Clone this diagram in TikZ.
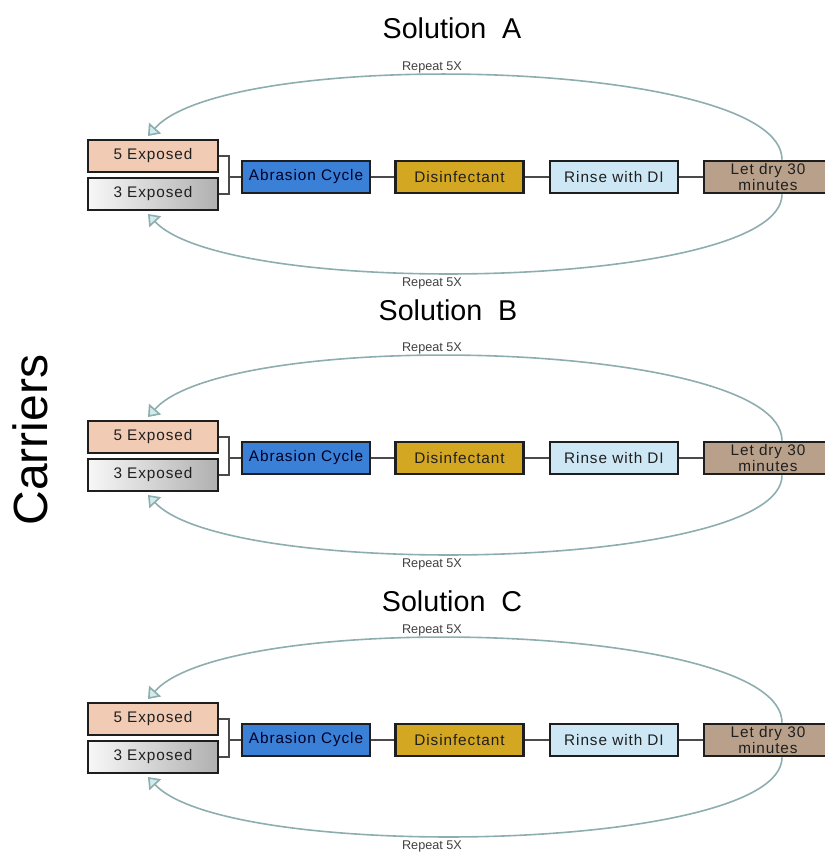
\documentclass[tikz,border=0pt]{standalone}
\usepackage{fontspec}
\setmainfont{Liberation Sans}
\newfontfamily\boxfont[LetterSpace=6]{Liberation Sans}
\usetikzlibrary{arrows.meta}
\definecolor{peach}{HTML}{F2CBB5}
\definecolor{abrblue}{HTML}{3A80D6}
\definecolor{gold}{HTML}{D4A722}
\definecolor{rinse}{HTML}{CDE7F5}
\definecolor{tan}{HTML}{B8A08A}
\definecolor{loopcol}{HTML}{8EADAE}
\definecolor{tipfill}{HTML}{D2ECEC}
\definecolor{linkcol}{HTML}{4A4A4A}
\definecolor{edgecol}{HTML}{1E1E1E}
\tikzset{
  stage/.style={draw=edgecol, line width=2pt, minimum height=24pt,
    inner sep=0pt, text=black!88, align=center,
    font=\boxfont\fontsize{11.5}{13}\selectfont},
  carrier/.style={stage, minimum width=97.5pt},
  procbox/.style={stage, minimum width=96pt},
  link/.style={draw=linkcol, line width=2pt},
  loop/.style={draw=loopcol, line width=1.2pt,
    -{Triangle[length=8pt,width=12pt,fill=tipfill]}},
  reptext/.style={font=\fontsize{9.5}{11}\selectfont, text=black!75},
  title/.style={font=\fontsize{21.5}{24}\selectfont},
}
\begin{document}
\begin{tikzpicture}[x=0.75pt, y=-0.75pt]
\useasboundingbox (0,0) rectangle (825,854);
\clip (0,0) rectangle (825,854);

\node[rotate=90, font=\fontsize{36}{40}\selectfont] (carriers) at (30,440) {Carriers};

\foreach \r/\dy/\tx/\ty in {A/0/452/28, B/281/448/310, C/563/452/601} {
  \begin{scope}[yshift={-0.75pt*\dy}]
    \node[title] (title\r) at (\tx,{\ty-\dy}) {Solution\ \ \r};

    \node[carrier, fill=peach] (five\r) at (153,156) {5 Exposed};
    \node[carrier, left color=gray!6, right color=gray!62] (three\r) at (153,194) {3 Exposed};
    \node[procbox, fill=abrblue, text=black!85!blue] (abr\r) at (306,177) {Abrasion Cycle};
    \node[procbox, fill=gold] (dis\r) at (459.5,177) {Disinfectant};
    \node[procbox, fill=rinse] (rin\r) at (614,177) {Rinse with DI};
    \node[procbox, fill=tan] (dry\r) at (768,177) {Let dry 30\\[-1.5pt]minutes};

    % bracket joining the two carrier groups
    \coordinate (join\r) at (229,177);
    \draw[link] (five\r.east) -| (join\r) |- (three\r.east);
    \draw[link] (join\r) -- (abr\r.west);
    \draw[link] (abr\r) -- (dis\r);
    \draw[link] (dis\r) -- (rin\r);
    \draw[link] (rin\r) -- (dry\r);

    % repeat loops back to the carriers
    \coordinate (loopx\r) at (782,177);
    \coordinate (topend\r) at (148,136);
    \coordinate (botend\r) at (148,214);
    \draw[loop] (dry\r.north -| loopx\r) .. controls (782,58) and (228,46) .. (topend\r);
    \draw[loop] (dry\r.south -| loopx\r) .. controls (782,290) and (228,300) .. (botend\r);
    \node[reptext] (reptop\r) at (432,67) {Repeat 5X};
    \node[reptext] (repbot\r) at (432,283) {Repeat 5X};
  \end{scope}
}
\end{tikzpicture}
\end{document}
